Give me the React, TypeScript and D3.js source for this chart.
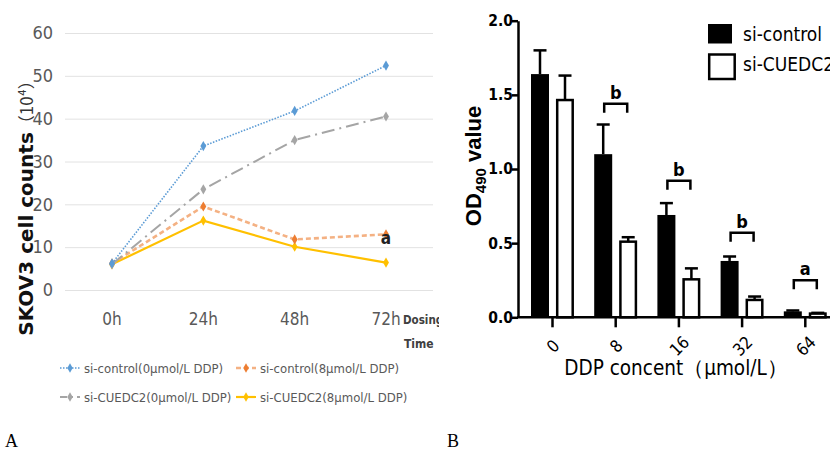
import { useEffect, useRef } from 'react';
import * as d3 from 'd3';

// Panel A: cell counts (x10^4) over dosing time
const timePoints = ['0h', '24h', '48h', '72h'];
const ctrl0 = [6.2, 33.6, 41.8, 52.4];
const ctrl8 = [6.2, 19.5, 11.8, 13.0];
const cue0 = [6.0, 23.5, 35.0, 40.5];
const cue8 = [6.0, 16.2, 10.1, 6.4];
const countTicks = [0, 10, 20, 30, 40, 50, 60];

// Panel B: OD490 by DDP concentration
const doses = ['0', '8', '16', '32', '64'];
const odCtrl = [1.64, 1.1, 0.69, 0.38, 0.04];
const odCtrlErr = [0.16, 0.2, 0.08, 0.03, 0.006];
const odCue = [1.465, 0.51, 0.256, 0.117, 0.025];
const odCueErr = [0.165, 0.03, 0.074, 0.023, 0.005];
const sigLevel = [null, 1.44, 0.92, 0.57, 0.25];
const sigLabel = ['', 'b', 'b', 'b', 'a'];
const odTicks = [0, 0.5, 1.0, 1.5, 2.0];

const NARROW = "'DejaVu Sans', sans-serif";

const series = [
  { name: 'si-control(0μmol/L DDP)', values: ctrl0, line: '#5B9BD5', marker: '#5B9BD5', dash: '1.5,1.5', width: 1.6 },
  { name: 'si-control(8μmol/L DDP)', values: ctrl8, line: '#F4B183', marker: '#ED7D31', dash: '5,3', width: 2.6 },
  { name: 'si-CUEDC2(0μmol/L DDP)', values: cue0, line: '#A5A5A5', marker: '#A5A5A5', dash: '13,5,2,5', width: 2 },
  { name: 'si-CUEDC2(8μmol/L DDP)', values: cue8, line: '#FFC000', marker: '#FFC000', dash: null, width: 2.2 },
];

const narrow = (sel: any, size: number, weight = 'normal') =>
  sel.style('font-family', NARROW).style('font-stretch', 'condensed')
    .style('font-size', `${size}px`).style('font-weight', weight);

export default function App() {
  const svgRef = useRef<SVGSVGElement>(null);

  useEffect(() => {
    if (!svgRef.current) return;
    const svg = d3.select(svgRef.current);
    svg.selectAll('*').remove();

    // ---------- Panel A ----------
    svg.append('clipPath').attr('id', 'clipA')
      .append('rect').attr('x', 0).attr('y', 0).attr('width', 439).attr('height', 451);
    const a = svg.append('g').attr('clip-path', 'url(#clipA)');

    const x = d3.scalePoint<string>().domain(timePoints).range([112, 386]);
    const y = d3.scaleLinear().domain([0, 60]).range([290, 33]);

    // grid + labels
    a.append('g')
      .attr('transform', 'translate(65,0)')
      .call(d3.axisLeft(y).tickValues(countTicks).tickSize(-368).tickFormat(d => String(d)))
      .call(g => g.select('.domain').remove())
      .call(g => g.selectAll('.tick line').attr('stroke', '#e2e2e2').attr('stroke-width', 1))
      .call(g => narrow(g.selectAll('.tick text').attr('x', -12).attr('fill', '#595959'), 18));

    narrow(a.append('g')
      .selectAll('text')
      .data(timePoints)
      .join('text')
      .attr('x', d => x(d)!)
      .attr('y', 325)
      .attr('text-anchor', 'middle')
      .attr('fill', '#595959'), 17)
      .text(d => d);

    narrow(a.append('text').attr('x', 403).attr('y', 324).attr('fill', '#404040'), 11.5, 'bold').text('Dosing');
    narrow(a.append('text').attr('x', 404).attr('y', 348).attr('fill', '#404040'), 12, 'bold').text('Time');

    // lines
    const line = d3.line<number>().x((_, i) => x(timePoints[i])!).y(d => y(d));
    const order = [3, 1, 2, 0];
    order.forEach(si => {
      const s = series[si];
      a.append('path')
        .datum(s.values)
        .attr('fill', 'none')
        .attr('stroke', s.line)
        .attr('stroke-width', s.width)
        .attr('stroke-dasharray', s.dash)
        .attr('d', line);
      a.append('g')
        .selectAll('path')
        .data(s.values)
        .join('path')
        .attr('d', d3.symbol(d3.symbolDiamond, 30)())
        .attr('transform', (d, i) => `translate(${x(timePoints[i])},${y(d)})`)
        .attr('fill', s.marker);
    });

    // significance 'a'
    narrow(a.append('text')
      .attr('x', x('72h')!)
      .attr('y', y(ctrl8[3]) + 10)
      .attr('text-anchor', 'middle')
      .attr('fill', '#222'), 17, 'bold')
      .text('a');

    // y title
    const yt = a.append('text')
      .attr('transform', 'translate(33,204) rotate(-90)')
      .attr('text-anchor', 'middle')
      .attr('fill', '#111')
      .style('font-family', "'DejaVu Sans', sans-serif")
      .style('font-size', '20px');
    yt.append('tspan').style('font-weight', 'bold').text('SKOV3 cell counts');
    yt.append('tspan').style('font-family', "'Noto Sans CJK SC', sans-serif").style('font-size', '17px').attr('fill', '#333').text('（10⁴）');

    // legend
    const legPos = [
      { x: 60, y: 368 }, { x: 236, y: 368 },
      { x: 60, y: 397 }, { x: 236, y: 397 },
    ];
    series.forEach((s, i) => {
      const p = legPos[i];
      const lg = a.append('g').attr('transform', `translate(${p.x},${p.y})`);
      lg.append('line').attr('x1', 0).attr('x2', 20).attr('y1', 0).attr('y2', 0)
        .attr('stroke', s.line).attr('stroke-width', s.width).attr('stroke-dasharray', i === 2 ? '7,4,2,4' : s.dash);
      lg.append('path').attr('d', d3.symbol(d3.symbolDiamond, 26)()).attr('transform', 'translate(10,0)').attr('fill', s.marker);
      narrow(lg.append('text').attr('x', 24).attr('y', 5).attr('fill', '#595959'), 13).text(s.name);
    });

    svg.append('text').attr('x', 5).attr('y', 447)
      .style('font-family', "'Liberation Serif', serif").style('font-size', '18px').text('A');

    // ---------- Panel B ----------
    const b = svg.append('g');
    const xb = d3.scalePoint<string>().domain(doses).range([552, 804.8]);
    const yb = d3.scaleLinear().domain([0, 2]).range([317.3, 20.7]);
    const lw = 2.5;

    b.append('g')
      .attr('transform', 'translate(518,0)')
      .call(d3.axisLeft(yb).tickValues(odTicks).tickSize(6).tickSizeOuter(0).tickFormat(d3.format('.1f')))
      .call(g => g.select('.domain').attr('stroke', '#000').attr('stroke-width', lw))
      .call(g => g.selectAll('.tick line').attr('stroke', '#000').attr('stroke-width', lw))
      .call(g => narrow(g.selectAll('.tick text').attr('x', -5).attr('fill', '#000'), 15.5, 'bold'));

    // bars
    const barW = 18;
    b.append('g').selectAll('rect').data(odCtrl).join('rect')
      .attr('x', (_, i) => xb(doses[i])! - 21)
      .attr('y', d => yb(d))
      .attr('width', barW)
      .attr('height', d => yb(0) - yb(d))
      .attr('fill', '#000');
    b.append('g').selectAll('rect').data(odCue).join('rect')
      .attr('x', (_, i) => xb(doses[i])! + 5.2)
      .attr('y', d => yb(d))
      .attr('width', 15.5)
      .attr('height', d => yb(0) - yb(d))
      .attr('fill', '#fff')
      .attr('stroke', '#000')
      .attr('stroke-width', lw);

    // error bars (upper only)
    const errs = [
      { vals: odCtrl, err: odCtrlErr, off: -12 },
      { vals: odCue, err: odCueErr, off: 13 },
    ];
    errs.forEach(e => {
      const g = b.append('g').attr('stroke', '#000').attr('stroke-width', lw);
      e.vals.forEach((v, i) => {
        const cx = xb(doses[i])! + e.off;
        const top = yb(v + e.err[i]);
        g.append('line').attr('x1', cx).attr('x2', cx).attr('y1', yb(v)).attr('y2', top);
        g.append('line').attr('x1', cx - 6.5).attr('x2', cx + 6.5).attr('y1', top).attr('y2', top);
      });
    });

    // x axis
    b.append('line').attr('x1', 517).attr('x2', 830).attr('y1', yb(0)).attr('y2', yb(0))
      .attr('stroke', '#000').attr('stroke-width', lw);
    b.append('g')
      .attr('transform', `translate(0,${yb(0)})`)
      .call(d3.axisBottom(xb).tickSize(10).tickSizeOuter(0).tickFormat(() => ''))
      .call(g => g.select('.domain').remove())
      .call(g => g.selectAll('.tick line').attr('stroke', '#000').attr('stroke-width', lw));
    narrow(b.append('g').selectAll('text').data(doses).join('text')
      .attr('transform', d => `translate(${xb(d)! + 1},${346}) rotate(-45)`)
      .attr('text-anchor', 'middle')
      .attr('dy', '0.35em')
      .attr('fill', '#000'), 17)
      .text(d => d);

    // significance brackets
    sigLevel.forEach((lv, i) => {
      if (lv == null) return;
      const c = xb(doses[i])! + 0.5;
      const yy = yb(lv);
      b.append('path')
        .attr('d', `M${c - 11.5},${yy + 9} V${yy} H${c + 11.5} V${yy + 9}`)
        .attr('fill', 'none').attr('stroke', '#000').attr('stroke-width', lw);
      narrow(b.append('text').attr('x', c).attr('y', yy - 5)
        .attr('text-anchor', 'middle').attr('fill', '#000'), 18, 'bold')
        .text(sigLabel[i]);
    });

    // titles
    const ot = b.append('text')
      .attr('transform', 'translate(481,166) rotate(-90)')
      .attr('text-anchor', 'middle')
      .attr('fill', '#000')
      .style('font-family', "'Liberation Sans', Arial, sans-serif")
      .style('font-size', '22px').style('font-weight', 'bold');
    ot.append('tspan').text('OD');
    ot.append('tspan').attr('dy', 5).style('font-size', '15px').text('490');
    ot.append('tspan').attr('dy', -5).text('\u00a0value');

    narrow(b.append('text').attr('x', 676).attr('y', 375)
      .attr('text-anchor', 'middle').attr('fill', '#000'), 20.5)
      .text('DDP concent（μmol/L）');

    // legend
    b.append('rect').attr('x', 708).attr('y', 24).attr('width', 24).attr('height', 19.5).attr('fill', '#000');
    b.append('rect').attr('x', 709.2).attr('y', 54.5).attr('width', 25.5).attr('height', 24.5)
      .attr('fill', '#fff').attr('stroke', '#000').attr('stroke-width', lw);
    narrow(b.append('text').attr('x', 743).attr('y', 41).attr('fill', '#000'), 19).text('si-control');
    narrow(b.append('text').attr('x', 743).attr('y', 71).attr('fill', '#000'), 19).text('si-CUEDC2');

    svg.append('text').attr('x', 447).attr('y', 447)
      .style('font-family', "'Liberation Serif', serif").style('font-size', '18px').text('B');
  }, []);

  return (
    <div style={{ position: 'absolute', left: 0, top: 0, width: 830, height: 451, background: '#fff' }}>
      <svg ref={svgRef} width={830} height={451} />
    </div>
  );
}
